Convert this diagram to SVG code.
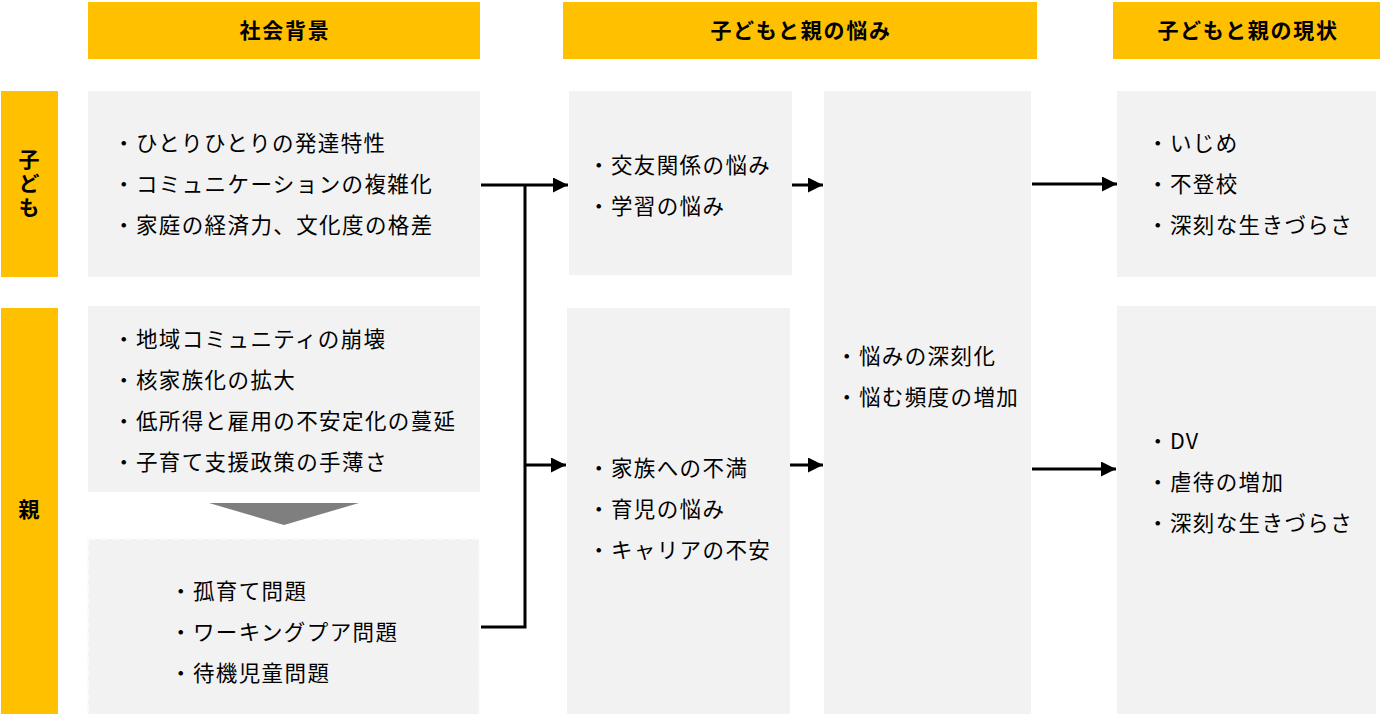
<svg xmlns="http://www.w3.org/2000/svg" width="1391" height="714" viewBox="0 0 1391 714">
<defs>
<marker id="arr" viewBox="0 0 10 10" refX="10" refY="5" markerWidth="5" markerHeight="5" markerUnits="strokeWidth" orient="auto"><path d="M0,0 L10,5 L0,10 z" fill="#000"/></marker>
<style>
.hdr{fill:#ffc000}
.box{fill:#f2f2f2}
.dash{fill:#f2f2f2;stroke:#fafafa;stroke-width:2;stroke-dasharray:8 4}
.t{font-family:"Noto Sans CJK JP","Noto Sans",sans-serif;font-size:21.5px;fill:#000;letter-spacing:1.4px}
.h{font-family:"Noto Sans CJK JP","Noto Sans",sans-serif;font-size:21px;font-weight:bold;fill:#000;letter-spacing:1.7px;text-anchor:middle}
.v{font-family:"Noto Sans CJK JP","Noto Sans",sans-serif;font-size:21px;font-weight:bold;fill:#000;text-anchor:middle;writing-mode:vertical-rl;letter-spacing:3px}
.c{fill:none;stroke:#000;stroke-width:3}
</style>
</defs>
<rect width="1391" height="714" fill="#fff"/>
<g id="header-social"><rect class="hdr" x="88" y="2" width="392" height="57"/><text class="h" x="285" y="38">社会背景</text></g>
<g id="header-worries"><rect class="hdr" x="563" y="2" width="474" height="57"/><text class="h" x="801" y="38">子どもと親の悩み</text></g>
<g id="header-status"><rect class="hdr" x="1113" y="2" width="267" height="57"/><text class="h" x="1248" y="38">子どもと親の現状</text></g>
<g id="label-child"><rect class="hdr" x="1" y="91" width="57" height="186"/><text class="v" x="29" y="185">子ども</text></g>
<g id="label-parent"><rect class="hdr" x="1" y="308" width="57" height="406"/><text class="v" x="29" y="511">親</text></g>
<g id="social-child"><rect class="box" x="88" y="91" width="392" height="186"/>
<text class="t" x="113" y="151">・ひとりひとりの発達特性</text>
<text class="t" x="113" y="192">・コミュニケーションの複雑化</text>
<text class="t" x="113" y="233">・家庭の経済力、文化度の格差</text></g>
<g id="social-parent"><rect class="box" x="88" y="306" width="392" height="186"/>
<text class="t" x="113" y="347">・地域コミュニティの崩壊</text>
<text class="t" x="113" y="388">・核家族化の拡大</text>
<text class="t" x="113" y="429">・低所得と雇用の不安定化の蔓延</text>
<text class="t" x="113" y="470">・子育て支援政策の手薄さ</text></g>
<g id="down-triangle"><polygon points="209,503 359,503 284,525" fill="#7f7f7f"/></g>
<g id="social-problems"><rect class="dash" x="88" y="539" width="391" height="176"/>
<text class="t" x="170" y="599">・孤育て問題</text>
<text class="t" x="170" y="640">・ワーキングプア問題</text>
<text class="t" x="170" y="681">・待機児童問題</text></g>
<g id="worry-child"><rect class="box" x="569" y="91" width="223" height="184"/>
<text class="t" x="588" y="173">・交友関係の悩み</text>
<text class="t" x="588" y="214">・学習の悩み</text></g>
<g id="worry-parent"><rect class="box" x="567" y="308" width="223" height="406"/>
<text class="t" x="588" y="476">・家族への不満</text>
<text class="t" x="588" y="517">・育児の悩み</text>
<text class="t" x="588" y="558">・キャリアの不安</text></g>
<g id="worry-deep"><rect class="box" x="824" y="91" width="207" height="623"/>
<text class="t" x="836" y="364">・悩みの深刻化</text>
<text class="t" x="836" y="405">・悩む頻度の増加</text></g>
<g id="status-child"><rect class="box" x="1117" y="91" width="259" height="186"/>
<text class="t" x="1147" y="151">・いじめ</text>
<text class="t" x="1147" y="192">・不登校</text>
<text class="t" x="1147" y="233">・深刻な生きづらさ</text></g>
<g id="status-parent"><rect class="box" x="1117" y="306" width="259" height="408"/>
<text class="t" x="1147" y="449">・DV</text>
<text class="t" x="1147" y="490">・虐待の増加</text>
<text class="t" x="1147" y="531">・深刻な生きづらさ</text></g>
<g id="connectors">
<path class="c" d="M481,185 H568" marker-end="url(#arr)"/>
<path class="c" d="M481,627 H525 V185"/>
<path class="c" d="M525,465 H566" marker-end="url(#arr)"/>
<path class="c" d="M792,185 H823" marker-end="url(#arr)"/>
<path class="c" d="M790,465 H823" marker-end="url(#arr)"/>
<path class="c" d="M1032,184 H1117" marker-end="url(#arr)"/>
<path class="c" d="M1032,469 H1116" marker-end="url(#arr)"/>
</g>
</svg>
